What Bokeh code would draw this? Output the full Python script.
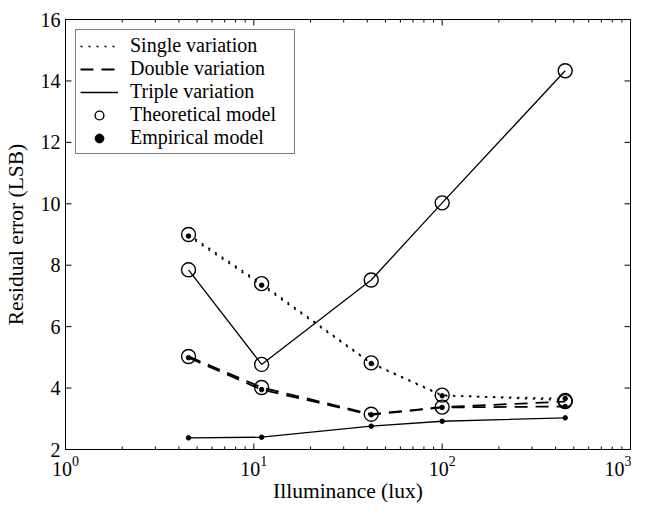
import math
from bokeh.plotting import figure
from bokeh.models import Legend, LegendItem, Range1d, LogTicker, FixedTicker
from bokeh.embed import file_html
from bokeh.resources import INLINE

# ---- data ----
illuminance = [4.5, 11, 42, 100, 450]

single_theoretical = [9.00, 7.40, 4.82, 3.77, 3.60]
single_empirical = [8.95, 7.35, 4.80, 3.75, 3.66]
double_theoretical = [5.03, 4.02, 3.15, 3.38, 3.56]
double_empirical = [4.99, 3.95, 3.13, 3.37, 3.40]
triple_theoretical = [7.85, 4.77, 7.52, 10.03, 14.33]
triple_empirical = [2.38, 2.40, 2.76, 2.92, 3.03]

x_tick_values = [1, 10, 100, 1000]
x_tick_labels = ["10\u2070", "10\u00b9", "10\u00b2", "10\u00b3"]
x_minor_ticks = [m * d for d in (1, 10, 100) for m in range(2, 10)]
y_tick_values = [2, 4, 6, 8, 10, 12, 14, 16]

legend_labels = ["Single variation", "Double variation", "Triple variation",
                 "Theoretical model", "Empirical model"]

FONT = "Liberation Serif"
X_MIN, X_MAX = 1, 1000
Y_MIN, Y_MAX = 2, 16

p = figure(width=631, height=505, x_axis_type="log",
           x_range=Range1d(X_MIN, X_MAX), y_range=Range1d(Y_MIN, Y_MAX),
           output_backend="svg", toolbar_location=None,
           min_border_left=57, min_border_right=1, min_border_top=19,
           min_border_bottom=30)
p.grid.visible = False
p.outline_line_color = "black"
p.outline_line_width = 1
p.background_fill_color = "white"
p.border_fill_color = "white"


def style_axis(ax):
    ax.axis_line_color = "black"
    ax.major_tick_line_color = None
    ax.minor_tick_line_color = None
    ax.major_tick_in = 0
    ax.major_tick_out = 0
    ax.minor_tick_in = 0
    ax.minor_tick_out = 0
    ax.major_label_text_font = FONT
    ax.major_label_text_color = "black"
    ax.major_label_text_font_size = "20px"
    ax.major_label_text_line_height = 1.0
    ax.axis_label_text_font = FONT
    ax.axis_label_text_font_size = "21.5px"
    ax.axis_label_text_line_height = 1.0
    ax.axis_label_text_font_style = "normal"
    ax.axis_label_text_color = "black"


xa = p.xaxis[0]
style_axis(xa)
xa.ticker = LogTicker(num_minor_ticks=10)
xa.major_label_overrides = {str(v): s for v, s in zip(x_tick_values, x_tick_labels)}
xa.major_label_standoff = 6
xa.axis_label = "Illuminance (lux)"
xa.axis_label_standoff = 0

ya = p.yaxis[0]
style_axis(ya)
ya.ticker = FixedTicker(ticks=y_tick_values)
ya.major_label_standoff = 5
ya.axis_label = "Residual error (LSB)"
ya.axis_label_standoff = 10

# ---- inward tick marks (dash markers centred on the frame edge, clipped by the frame) ----
tick_kw = dict(marker="dash", line_color="black", line_width=1)
vert = math.pi / 2
for yv in (Y_MIN, Y_MAX):
    p.scatter(x_tick_values, [yv] * len(x_tick_values), size=12, angle=vert, **tick_kw)
    p.scatter(x_minor_ticks, [yv] * len(x_minor_ticks), size=6, angle=vert, **tick_kw)
for xv in (X_MIN, X_MAX):
    p.scatter([xv] * len(y_tick_values), y_tick_values, size=12, **tick_kw)

# ---- lines ----
dot_kw = dict(line_color="black", line_width=1.6, line_dash="2 6")
dash_kw = dict(line_color="black", line_width=1.8, line_dash="13 8")
solid_kw = dict(line_color="black", line_width=1.3)

r_single = p.line(illuminance, single_theoretical, **dot_kw)
p.line(illuminance, single_empirical, **dot_kw)
r_double = p.line(illuminance, double_theoretical, **dash_kw)
p.line(illuminance, double_empirical, **dash_kw)
r_triple = p.line(illuminance, triple_theoretical, **solid_kw)
p.line(illuminance, triple_empirical, **solid_kw)

# ---- markers ----
theo_kw = dict(size=14, marker="circle", fill_color=None, line_color="black", line_width=1.4)
emp_kw = dict(size=4.5, marker="circle", fill_color="black", line_color="black")

r_theo = p.scatter(illuminance, single_theoretical, **theo_kw)
p.scatter(illuminance, double_theoretical, **theo_kw)
p.scatter(illuminance, triple_theoretical, **theo_kw)
r_emp = p.scatter(illuminance, single_empirical, **emp_kw)
p.scatter(illuminance, double_empirical, **emp_kw)
p.scatter(illuminance, triple_empirical, **emp_kw)

legend = Legend(items=[
    LegendItem(label=legend_labels[0], renderers=[r_single]),
    LegendItem(label=legend_labels[1], renderers=[r_double]),
    LegendItem(label=legend_labels[2], renderers=[r_triple]),
    LegendItem(label=legend_labels[3], renderers=[r_theo]),
    LegendItem(label=legend_labels[4], renderers=[r_emp]),
], location="top_left")
legend.margin = 10
legend.padding = 4
legend.spacing = 0
legend.glyph_width = 38
legend.glyph_height = 22
legend.label_height = 22
legend.label_width = 160
legend.label_standoff = 12
legend.label_text_font = FONT
legend.label_text_font_size = "20px"
legend.label_text_color = "black"
legend.border_line_color = "black"
legend.border_line_width = 1
legend.background_fill_color = "white"
legend.background_fill_alpha = 1
p.add_layout(legend)

open("out.html", "w").write(file_html(p, INLINE))
